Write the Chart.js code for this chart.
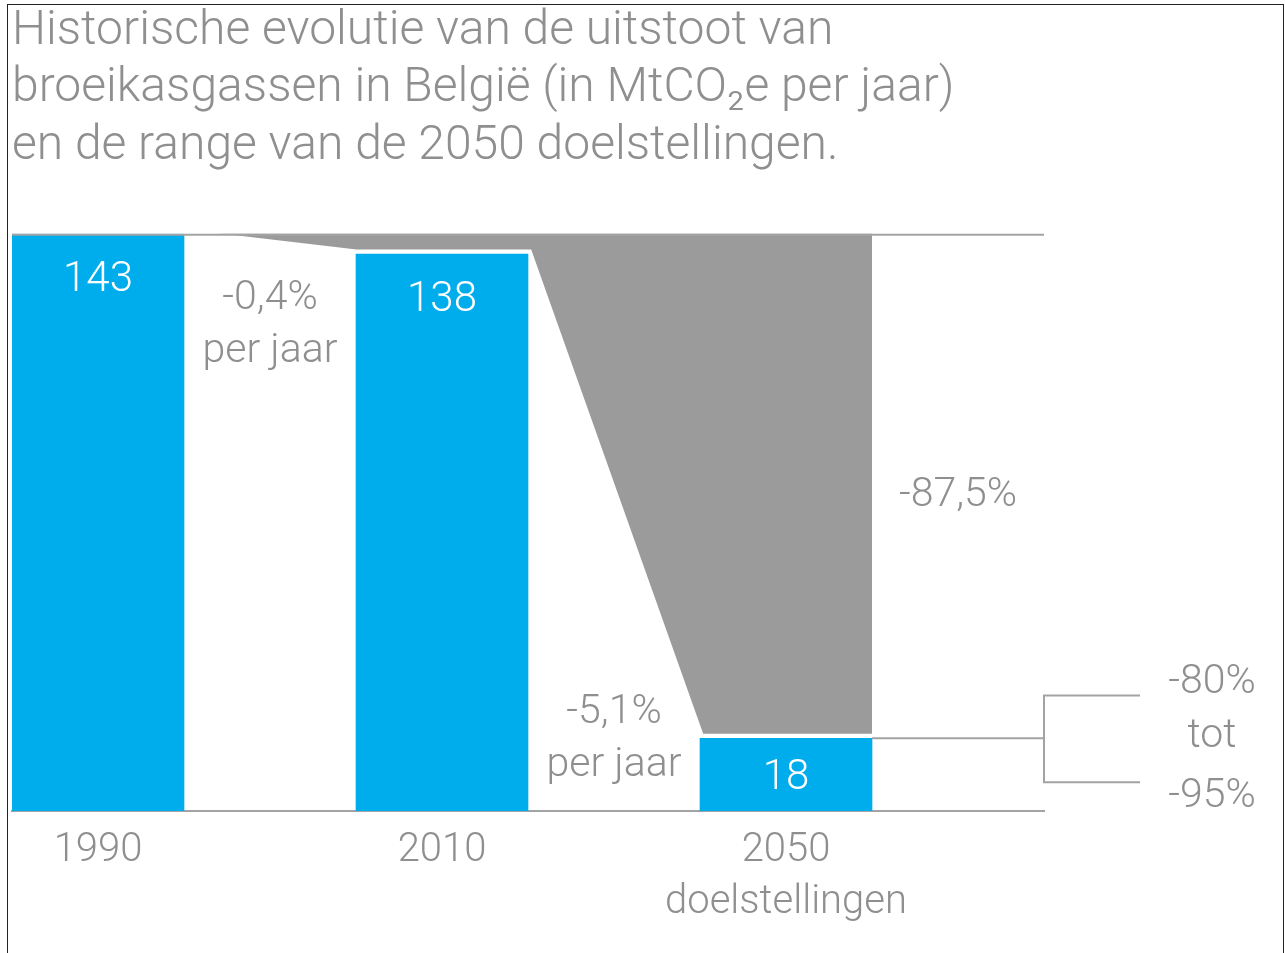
<!DOCTYPE html>
<html>
<head>
<meta charset="utf-8">
<script src="https://cdn.jsdelivr.net/npm/chart.js@4/dist/chart.umd.min.js"></script>
<style>
  html, body { margin: 0; padding: 0; background: #fff; overflow: hidden; }
  #wrap { position: relative; width: 1285px; height: 953px; }
  #frame { position: absolute; left: 7px; top: 4px; width: 1275px; height: 1000px; border: 1px solid #222; pointer-events: none; }
</style>
</head>
<body>
<div id="wrap">
  <canvas id="chart"></canvas>
  <div id="frame"></div>
</div>
<script>
// categorieën (lege kolommen = tussenruimte)
const categories = ['1990', '', '2010', '', ['2050', 'doelstellingen'], '']
// uitstoot in MtCO2e per jaar
const emissions = [143, null, 138, null, 18, null]
const valueLabels = ['143', '', '138', '', '18', '']
const rateLabels = [null, ['-0,4%', 'per jaar'], null, ['-5,1%', 'per jaar'], null, null]
const totalLabel = '-87,5%'
// range van de doelstellingen 2050 (% reductie t.o.v. 1990)
const targetRange = [80, 95]
const rangeLabels = ['-80%', 'tot', '-95%']

const BLUE = '#00adec'
const GREY_FILL = '#9b9b9b'
const LINE = '#a3a3a3'
const TEXT = '#8f8f8f'
const FONT = 'Roboto'

// grijze zone tussen de 1990-lijn en de balken
const gapArea = {
  id: 'gapArea',
  beforeDatasetsDraw(chart) {
    const ctx = chart.ctx
    const bars = chart.getDatasetMeta(0).data
    const top = chart.chartArea.top
    const b0 = bars[0], b2 = bars[2], b4 = bars[4]
    const r0 = b0.x + b0.width / 2
    const l2 = b2.x - b2.width / 2, r2 = b2.x + b2.width / 2
    const l4 = b4.x - b4.width / 2, r4 = b4.x + b4.width / 2
    ctx.save()
    ctx.beginPath()
    ctx.moveTo(r0, b0.y)
    ctx.lineTo(l2, b2.y)
    ctx.lineTo(r2, b2.y)
    ctx.lineTo(l4, b4.y)
    ctx.lineTo(r4, b4.y)
    ctx.lineTo(r4, top)
    ctx.lineTo(r0, top)
    ctx.closePath()
    ctx.fillStyle = GREY_FILL
    ctx.fill()
    // witte marge langs de onderrand
    ctx.beginPath()
    ctx.moveTo(r0, b0.y)
    ctx.lineTo(l2, b2.y)
    ctx.lineTo(r2, b2.y)
    ctx.lineTo(l4, b4.y)
    ctx.lineTo(r4, b4.y)
    ctx.strokeStyle = '#fff'
    ctx.lineWidth = 9
    ctx.stroke()
    ctx.restore()
  },
  afterDatasetsDraw(chart) {
    const ctx = chart.ctx
    const area = chart.chartArea
    const x = chart.scales.x
    const y = chart.scales.y
    const bars = chart.getDatasetMeta(0).data
    const b4 = bars[4]
    ctx.save()
    ctx.strokeStyle = LINE
    ctx.lineWidth = 2
    // bovenlijn op 1990-niveau
    ctx.beginPath()
    ctx.moveTo(area.left, area.top + 1)
    ctx.lineTo(area.right, area.top + 1)
    ctx.stroke()
    // lijn op 2050-niveau en accolade
    const yHi = y.getPixelForValue(emissions[0] * (1 - targetRange[0] / 100))
    const yLo = y.getPixelForValue(emissions[0] * (1 - targetRange[1] / 100))
    const bx = area.right
    ctx.beginPath()
    ctx.moveTo(b4.x + b4.width / 2, b4.y)
    ctx.lineTo(bx, b4.y)
    ctx.moveTo(bx + 96, yHi)
    ctx.lineTo(bx, yHi)
    ctx.lineTo(bx, yLo)
    ctx.lineTo(bx + 96, yLo)
    ctx.stroke()

    ctx.textAlign = 'center'
    ctx.textBaseline = 'middle'
    // waarden in de balken
    ctx.fillStyle = '#fff'
    ctx.font = '300 42px ' + FONT
    bars.forEach((bar, i) => {
      if (valueLabels[i]) ctx.fillText(valueLabels[i], bar.x, bar.y + (i === 4 ? 40 : 47))
    })
    // jaarlijkse daling
    ctx.fillStyle = TEXT
    ctx.font = '300 41px ' + FONT
    rateLabels.forEach((lines, i) => {
      if (!lines) return
      const cx = x.getPixelForValue(i)
      const cy = i === 1 ? area.top + 65 : bars[4].y - 26
      lines.forEach((t, k) => ctx.fillText(t, cx, cy + k * 53))
    })
    // totale daling
    ctx.fillText(totalLabel, x.getPixelForValue(5), (area.top + b4.y) / 2 + 10)
    // range
    const rx = bx + 168
    ctx.fillText(rangeLabels[0], rx, yHi - 13)
    ctx.fillText(rangeLabels[1], rx, b4.y - 2)
    ctx.fillText(rangeLabels[2], rx, yLo + 15)
    ctx.restore()
  }
}

new Chart(document.getElementById('chart'), {
  type: 'bar',
  data: {
    labels: categories,
    datasets: [{
      data: emissions,
      backgroundColor: BLUE,
      borderWidth: 0,
      barPercentage: 1,
      categoryPercentage: 1
    }]
  },
  options: {
    responsive: true,
    maintainAspectRatio: false,
    animation: false,
    layout: { padding: { left: 12, right: 241, top: 0, bottom: 10 } },
    plugins: {
      legend: { display: false },
      tooltip: { enabled: false },
      title: {
        display: true,
        align: 'start',
        text: [
          'Historische evolutie van de uitstoot van',
          'broeikasgassen in België (in MtCO₂e per jaar)',
          'en de range van de 2050 doelstellingen.'
        ],
        color: TEXT,
        font: { family: FONT, size: 48, weight: 300, lineHeight: 1.2 },
        padding: { top: 3, bottom: 58 }
      }
    },
    scales: {
      x: {
        grid: { display: false, drawTicks: false },
        border: { display: true, color: LINE, width: 2 },
        ticks: {
          color: TEXT,
          font: { family: FONT, size: 40, weight: 300, lineHeight: 1.3 },
          padding: 14,
          autoSkip: false,
          maxRotation: 0
        }
      },
      y: {
        display: false,
        min: 0,
        max: emissions[0]
      }
    }
  },
  plugins: [gapArea]
})
</script>
</body>
</html>
